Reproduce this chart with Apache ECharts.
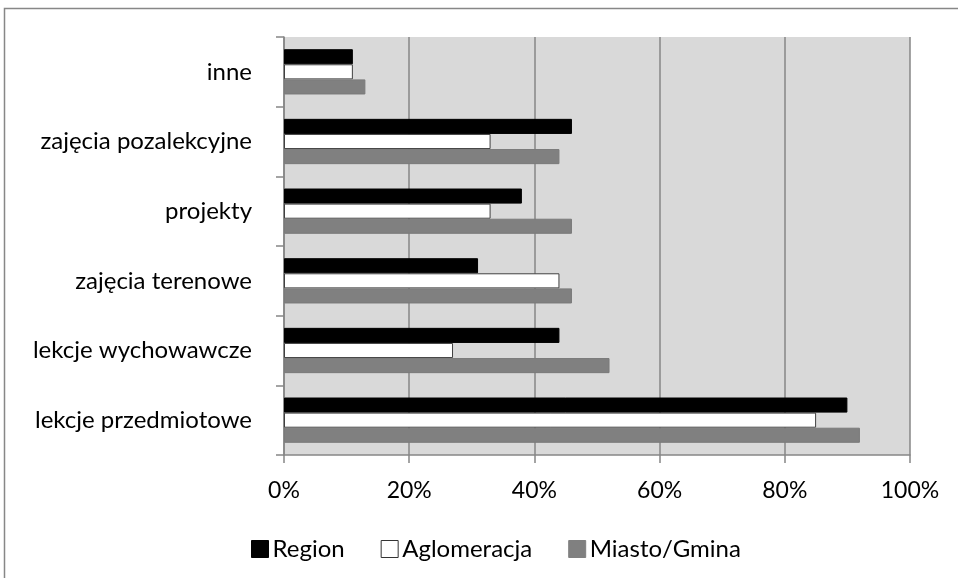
<!DOCTYPE html>
<html>
<head>
<meta charset="utf-8">
<script src="https://cdn.jsdelivr.net/npm/echarts@6/dist/echarts.min.js"></script>
<style>
  html, body { margin: 0; padding: 0; background: #fff; }
  #chart { width: 958px; height: 578px; }
</style>
</head>
<body>
<div id="chart"></div>
<script>
// kategorie od góry do dołu
const categories = ['inne', 'zajęcia pozalekcyjne', 'projekty', 'zajęcia terenowe', 'lekcje wychowawcze', 'lekcje przedmiotowe']
// wartości w %
const region = [11, 46, 38, 31, 44, 90]
const aglomeracja = [11, 33, 33, 44, 27, 85]
const miasto = [13, 44, 46, 46, 52, 92]
const xTicks = [0, 20, 40, 60, 80, 100]

const font = 'Lato, "Open Sans", sans-serif'
const myChart = echarts.init(document.getElementById('chart'))

myChart.setOption({
  animation: false,
  textStyle: { fontFamily: font },
  graphic: [{
    type: 'rect',
    shape: { x: 4.5, y: 8.5, width: 1000, height: 1000 },
    style: { fill: 'none', stroke: '#878787', lineWidth: 1.5 },
    silent: true
  }],
  grid: {
    left: 284,
    right: 48,
    top: 37,
    bottom: 123,
    show: true,
    backgroundColor: '#d9d9d9',
    borderWidth: 0
  },
  legend: {
    top: 532,
    left: 246,
    icon: 'rect',
    itemWidth: 17,
    itemHeight: 17,
    itemGap: 36,
    textStyle: { fontSize: 24, color: '#000', fontFamily: font, padding: [0, 0, 0, -1] },
    data: [
      { name: 'Region', itemStyle: { color: '#000', borderColor: '#000', borderWidth: 1 } },
      { name: 'Aglomeracja', itemStyle: { color: '#fff', borderColor: '#333', borderWidth: 1 } },
      { name: 'Miasto/Gmina', itemStyle: { color: '#808080', borderColor: '#808080', borderWidth: 1 } }
    ]
  },
  xAxis: {
    type: 'value',
    min: xTicks[0],
    max: xTicks[xTicks.length - 1],
    interval: 20,
    axisLine: { show: true, lineStyle: { color: '#868686', width: 1.5 } },
    axisTick: { show: true, length: 8, lineStyle: { color: '#868686', width: 1.5 } },
    splitLine: { show: true, lineStyle: { color: '#868686', width: 1.5 } },
    axisLabel: { formatter: '{value}%', fontSize: 23, color: '#000', margin: 24 }
  },
  yAxis: {
    type: 'category',
    inverse: true,
    data: categories,
    axisLine: { show: true, lineStyle: { color: '#868686', width: 1.5 } },
    axisTick: { show: true, length: 8, lineStyle: { color: '#868686', width: 1.5 } },
    axisLabel: { fontSize: 24, color: '#000', margin: 32, align: 'right' }
  },
  series: [
    {
      name: 'Region',
      type: 'bar',
      data: region,
      barGap: '0%',
      barCategoryGap: '35%',
      itemStyle: { color: '#000', borderColor: '#000', borderWidth: 1 }
    },
    {
      name: 'Aglomeracja',
      type: 'bar',
      data: aglomeracja,
      itemStyle: { color: '#fff', borderColor: '#404040', borderWidth: 1 }
    },
    {
      name: 'Miasto/Gmina',
      type: 'bar',
      data: miasto,
      itemStyle: { color: '#808080', borderColor: '#7a7a7a', borderWidth: 1 }
    }
  ]
})
</script>
</body>
</html>
